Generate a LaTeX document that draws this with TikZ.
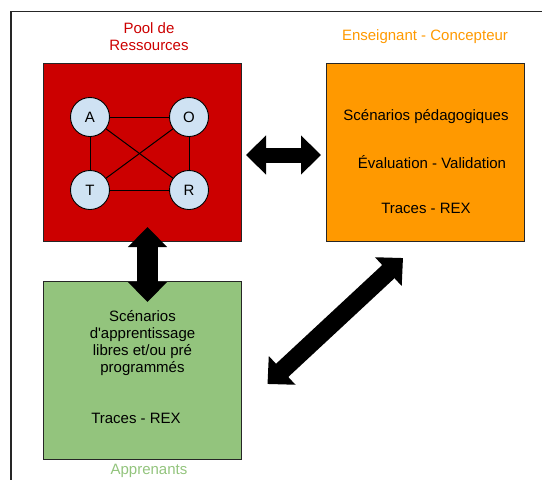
\documentclass[tikz,border=0pt]{standalone}
\usepackage{fontspec}
\setmainfont{Liberation Sans}
\usetikzlibrary{arrows.meta}
\definecolor{poolred}{HTML}{CC0000}
\definecolor{ensorange}{HTML}{FF9900}
\definecolor{appgreen}{HTML}{93C47D}
\definecolor{nodeblue}{HTML}{CFE2F3}

\begin{document}
\begin{tikzpicture}[x=1pt, y=-1pt,
    box/.style={draw=black!85, line width=0.9pt, minimum width=198pt, minimum height=178pt, inner sep=0pt},
    lettre/.style={circle, draw=black, line width=0.9pt, fill=nodeblue, minimum size=39pt, inner sep=0pt, font=\fontsize{15}{17}\selectfont},
    txt/.style={font=\fontsize{15}{17}\selectfont, align=center, inner sep=0pt},
    grosse/.style={line width=#1, {Triangle[length=20pt,width=38pt]}-{Triangle[length=20pt,width=38pt]}}]
        \useasboundingbox (0,0) rectangle (542,480);

        % ==== FRAME ====
        \draw[line width=1.1pt, black!85] (11,490) -- (11,11.5) -- (550,11.5);

        % ==== BOXES ====
        \node[box, fill=poolred] (pool) at (142,152) {};
        \node[box, fill=ensorange] (ens) at (425,152) {};
        \node[box, fill=appgreen] (app) at (142,370) {};

        % ==== TITLES ====
        \node[txt, text=poolred] (tpool) at (149,36.5) {Pool de\\Ressources};
        \node[txt, text=ensorange] (tens) at (425,37) {Enseignant - Concepteur};
        \node[txt, text=appgreen] (tapp) at (149,471) {Apprenants};

        % ==== A O T R ====
        \node[lettre] (a) at (90,117) {A};
        \node[lettre] (o) at (189,117) {O};
        \node[lettre] (t) at (90,190) {T};
        \node[lettre] (r) at (189,190) {R};
        \foreach \u/\v in {a/o, a/t, o/r, t/r, a/r, o/t}{
            \draw[line width=1pt] (\u) -- (\v);
        }

        % === LABELS ===
        \node[txt] (scen) at (426,116.5) {Scénarios pédagogiques};
        \node[txt] (eval) at (432,162) {Évaluation - Validation};
        \node[txt] (trens) at (426,208) {Traces - REX};
        \node[txt] (scapp) at (142.5,343) {Scénarios\\d\textquotesingle apprentissage\\libres et/ou pré\\programmés};
        \node[txt] (trapp) at (136,418) {Traces - REX};

        % ==== DOUBLE ARROWS ====
        \coordinate (pe) at (246,155);
        \coordinate (ew) at (321,155);
        \coordinate (ps) at (147.5,227);
        \coordinate (an) at (147.5,302);
        \coordinate (ae) at (267.5,384);
        \coordinate (es) at (403,258);
        \draw[grosse=15pt] (pe) -- (ew);
        \draw[grosse=21pt] (ps) -- (an);
        \draw[grosse=18pt] (ae) -- (es);

\end{tikzpicture}
\end{document}
